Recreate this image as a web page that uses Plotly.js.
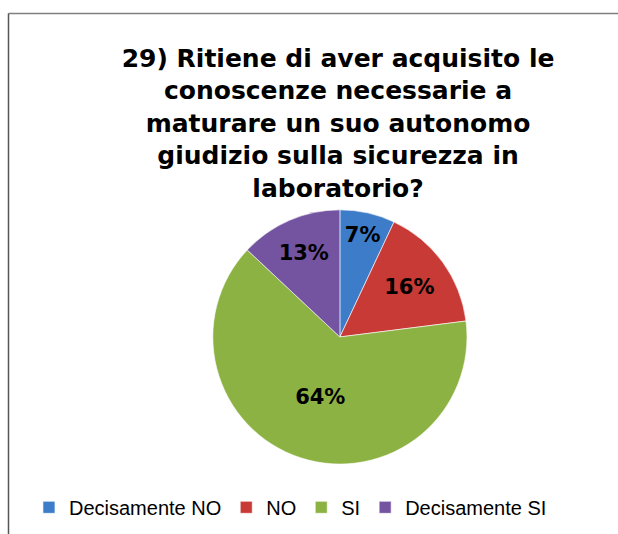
<!DOCTYPE html>
<html>
<head>
<meta charset="utf-8">
<script src="https://cdn.plot.ly/plotly-3.0.1.min.js"></script>
<style>html,body{margin:0;padding:0;background:#fff;}#chart{width:618px;height:534px;}</style>
</head>
<body>
<div id="chart"></div>
<script>
// Data
const categories = ["Decisamente NO", "NO", "SI", "Decisamente SI"];
const percentages = [7, 16, 64, 13];
const sliceColors = ["#3D7CC9", "#C83A36", "#8DB244", "#7453A0"];
const titleText = "29) Ritiene di aver acquisito le<br>conoscenze necessarie a<br>maturare un suo autonomo<br>giudizio sulla sicurezza in<br>laboratorio?";

const font = "'Liberation Sans', Arial, sans-serif";
const boldFont = "'DejaVu Sans', 'Liberation Sans', Arial, sans-serif";

const trace = {
  type: "pie",
  labels: categories,
  values: percentages,
  sort: false,
  direction: "clockwise",
  rotation: 0,
  marker: { colors: sliceColors, line: { color: "rgba(255,255,255,0.6)", width: 1 } },
  textinfo: "percent",
  texttemplate: "%{value}%",
  textposition: "inside",
  insidetextorientation: "horizontal",
  textfont: { family: boldFont, size: 21, color: "#000000", weight: "bold" },
  domain: { x: [0.25, 0.85], y: [0.131, 0.607] },
  hoverinfo: "label+percent"
};

const layout = {
  width: 618,
  height: 534,
  margin: { l: 0, r: 0, t: 0, b: 0 },
  paper_bgcolor: "#ffffff",
  font: { family: font, color: "#000000" },
  title: {
    text: titleText,
    font: { family: boldFont, size: 25, color: "#000000", weight: "bold" },
    x: 0.547, xanchor: "center",
    y: 0.875, yanchor: "top",
    yref: "container", xref: "paper"
  },
  showlegend: true,
  legend: {
    orientation: "h",
    x: 0.47, xanchor: "center",
    y: 0.05, yanchor: "middle",
    font: { family: font, size: 20, color: "#000000" },
    itemwidth: 30,
    tracegroupgap: 0
  },
  shapes: [
    { type: "line", xref: "paper", yref: "paper", x0: 8.5/618, x1: 1.02, y0: 1 - 13.5/534, y1: 1 - 13.5/534, line: { color: "#7f7f7f", width: 1.5 } },
    { type: "line", xref: "paper", yref: "paper", x0: 8.5/618, x1: 8.5/618, y0: 1 - 13.5/534, y1: -0.02, line: { color: "#555555", width: 1.5 } }
  ]
};

Plotly.newPlot("chart", [trace], layout, { displayModeBar: false, staticPlot: true });
</script>
</body>
</html>
